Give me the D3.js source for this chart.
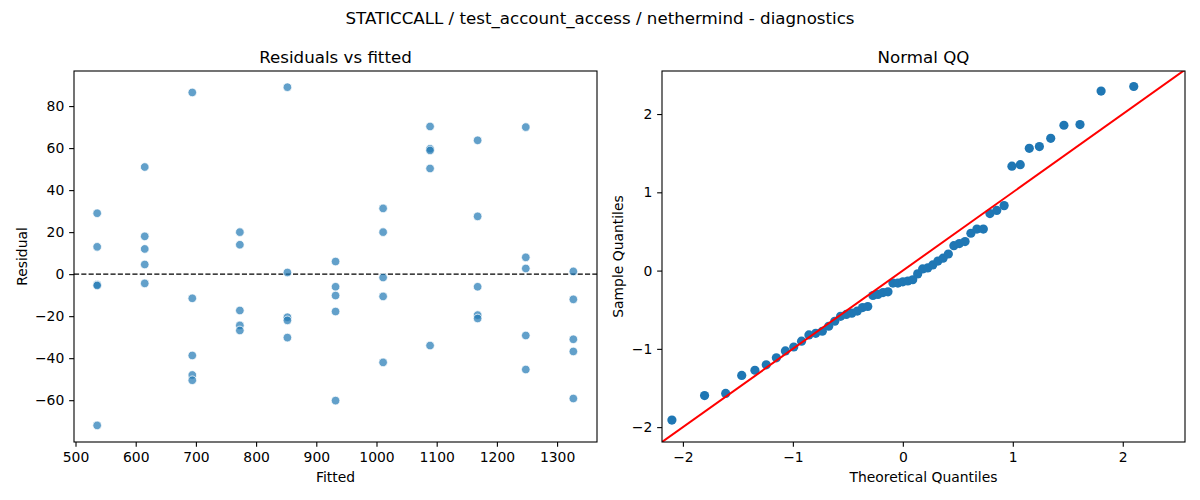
<!DOCTYPE html>
<html>
<head>
<meta charset="utf-8">
<script src="https://cdn.jsdelivr.net/npm/d3@7"></script>
<style>
  body { margin: 0; background: #fff; }
  text { font-family: "DejaVu Sans", sans-serif; fill: #000; }
</style>
</head>
<body>
<div id="chart"></div>
<script>
// residuals vs fitted: five runs per fitted level
const fitted = [
    536, 536, 536, 536, 536,
    615, 615, 615, 615, 615,
    694, 694, 694, 694, 694,
    773, 773, 773, 773, 773,
    852, 852, 852, 852, 852,
    932, 932, 932, 932, 932,
    1011, 1011, 1011, 1011, 1011,
    1089, 1089, 1089, 1089, 1089,
    1168, 1168, 1168, 1168, 1168,
    1248, 1248, 1248, 1248, 1248,
    1327, 1327, 1327, 1327, 1327
];
const residual = [
    29, 13, -5, -5.4, -72,
    51, 18, 12, 4.6, -4.4,
    86.5, -11.5, -38.7, -48, -50.5,
    20, 14, -17.3, -24.4, -26.8,
    89, 0.8, -20.5, -22, -30.2,
    6, -6, -10.2, -17.8, -60.2,
    31.3, 20, -1.6, -10.6, -42,
    70.3, 59.7, 58.9, 50.3, -34,
    63.7, 27.5, -6, -19.5, -21.1,
    70, 8, 2.7, -29.2, -45.4,
    1.3, -12, -31, -36.8, -59.2
];

// normal QQ
const theoretical = [
    -2.100, -1.803, -1.611, -1.465, -1.345, -1.242, -1.150, -1.068, -0.992, -0.921,
    -0.854, -0.792, -0.732, -0.674, -0.619, -0.566, -0.514, -0.464, -0.414, -0.366,
    -0.319, -0.272, -0.226, -0.180, -0.135, -0.090, -0.045, 0, 0.045, 0.090,
    0.135, 0.180, 0.226, 0.272, 0.319, 0.366, 0.414, 0.464, 0.514, 0.566,
    0.619, 0.674, 0.732, 0.792, 0.854, 0.921, 0.992, 1.068, 1.150, 1.242,
    1.345, 1.465, 1.611, 1.803, 2.100
];
const sample = [
    -1.910, -1.597, -1.570, -1.340, -1.273, -1.204, -1.114, -1.027, -0.976, -0.902,
    -0.822, -0.801, -0.775, -0.711, -0.647, -0.584, -0.560, -0.544, -0.517, -0.472,
    -0.459, -0.318, -0.305, -0.281, -0.271, -0.159, -0.159, -0.143, -0.133, -0.117,
    -0.042, 0.021, 0.034, 0.072, 0.122, 0.159, 0.212, 0.318, 0.345, 0.371,
    0.477, 0.531, 0.531, 0.729, 0.769, 0.830, 1.334, 1.353, 1.562, 1.584,
    1.690, 1.857, 1.865, 2.294, 2.352
];

const residTicksX = [500, 600, 700, 800, 900, 1000, 1100, 1200, 1300];
const residTicksY = [-60, -40, -20, 0, 20, 40, 60, 80];
const qqTicks = [-2, -1, 0, 1, 2];

const pageWidth = 1200;
const pageHeight = 500;
const plotTop = 71;
const plotBottom = 442;
const tickLen = 4.86;
const tickFont = 13.9;
const intFormat = d3.format("d");

const svg = d3.select("#chart")
    .append("svg")
    .attr("width", pageWidth)
    .attr("height", pageHeight);

svg.append("text")
    .attr("x", 600)
    .attr("y", 24)
    .attr("text-anchor", "middle")
    .style("font-size", "16.67px")
    .text("STATICCALL / test_account_access / nethermind - diagnostics");

function panel(left, right, xDomain, yDomain, xTicks, yTicks, title, xLabel, yLabel, yLabelX) {
    const x = d3.scaleLinear().domain(xDomain).range([left, right]);
    const y = d3.scaleLinear().domain(yDomain).range([plotBottom, plotTop]);
    const g = svg.append("g");

    g.append("g")
        .attr("transform", "translate(0," + plotBottom + ")")
        .call(d3.axisBottom(x).tickValues(xTicks).tickFormat(intFormat)
            .tickSize(tickLen).tickPadding(tickLen).tickSizeOuter(0))
        .call(a => a.select(".domain").remove());

    g.append("g")
        .attr("transform", "translate(" + left + ",0)")
        .call(d3.axisLeft(y).tickValues(yTicks).tickFormat(intFormat)
            .tickSize(tickLen).tickPadding(tickLen).tickSizeOuter(0))
        .call(a => a.select(".domain").remove());

    g.selectAll(".tick line").attr("stroke", "#000").attr("stroke-width", 1.1);
    g.selectAll(".tick text")
        .style("font-size", tickFont + "px")
        .style("font-family", "DejaVu Sans, sans-serif")
        .attr("fill", "#000");

    g.append("text")
        .attr("x", (left + right) / 2)
        .attr("y", 62.7)
        .attr("text-anchor", "middle")
        .style("font-size", "16.67px")
        .text(title);

    g.append("text")
        .attr("x", (left + right) / 2)
        .attr("y", 482)
        .attr("text-anchor", "middle")
        .style("font-size", tickFont + "px")
        .text(xLabel);

    g.append("text")
        .attr("transform", "translate(" + yLabelX + "," + ((plotTop + plotBottom) / 2) + ") rotate(-90)")
        .attr("text-anchor", "middle")
        .attr("dy", "0.35em")
        .style("font-size", tickFont + "px")
        .text(yLabel);

    const clipId = "clip" + left;
    g.append("clipPath").attr("id", clipId)
        .append("rect")
        .attr("x", left).attr("y", plotTop)
        .attr("width", right - left).attr("height", plotBottom - plotTop);

    const plot = g.append("g").attr("clip-path", "url(#" + clipId + ")");

    g.append("rect")
        .attr("x", left).attr("y", plotTop)
        .attr("width", right - left).attr("height", plotBottom - plotTop)
        .attr("fill", "none")
        .attr("stroke", "#000")
        .attr("stroke-width", 1.1);

    return { x, y, plot };
}

// left: residuals vs fitted
const rv = panel(74, 597, [497.5, 1366.3], [-79.9, 96.7], residTicksX, residTicksY,
    "Residuals vs fitted", "Fitted", "Residual", 22);

rv.plot.append("line")
    .attr("x1", 74).attr("x2", 597)
    .attr("y1", rv.y(0)).attr("y2", rv.y(0))
    .attr("stroke", "#000")
    .attr("stroke-width", 1.1)
    .attr("stroke-dasharray", "5.1,2.2");

rv.plot.selectAll(".dot")
    .data(fitted.map((f, i) => ({ f: f, r: residual[i] })))
    .enter().append("circle")
    .attr("class", "dot")
    .attr("cx", d => rv.x(d.f))
    .attr("cy", d => rv.y(d.r))
    .attr("r", 4.3)
    .attr("fill", "#1f77b4")
    .attr("fill-opacity", 0.7)
    .attr("stroke", "#fff")
    .attr("stroke-width", 0.75);

// right: normal QQ
const qq = panel(662, 1185, [-2.19, 2.566], [-2.19, 2.55], qqTicks, qqTicks,
    "Normal QQ", "Theoretical Quantiles", "Sample Quantiles", 618);

qq.plot.selectAll(".qq")
    .data(theoretical.map((t, i) => ({ t: t, s: sample[i] })))
    .enter().append("circle")
    .attr("class", "qq")
    .attr("cx", d => qq.x(d.t))
    .attr("cy", d => qq.y(d.s))
    .attr("r", 4.6)
    .attr("fill", "#1f77b4");

qq.plot.append("line")
    .attr("x1", qq.x(-2.19)).attr("y1", qq.y(-2.19))
    .attr("x2", qq.x(2.6)).attr("y2", qq.y(2.6))
    .attr("stroke", "#ff0000")
    .attr("stroke-width", 2);
</script>
</body>
</html>
